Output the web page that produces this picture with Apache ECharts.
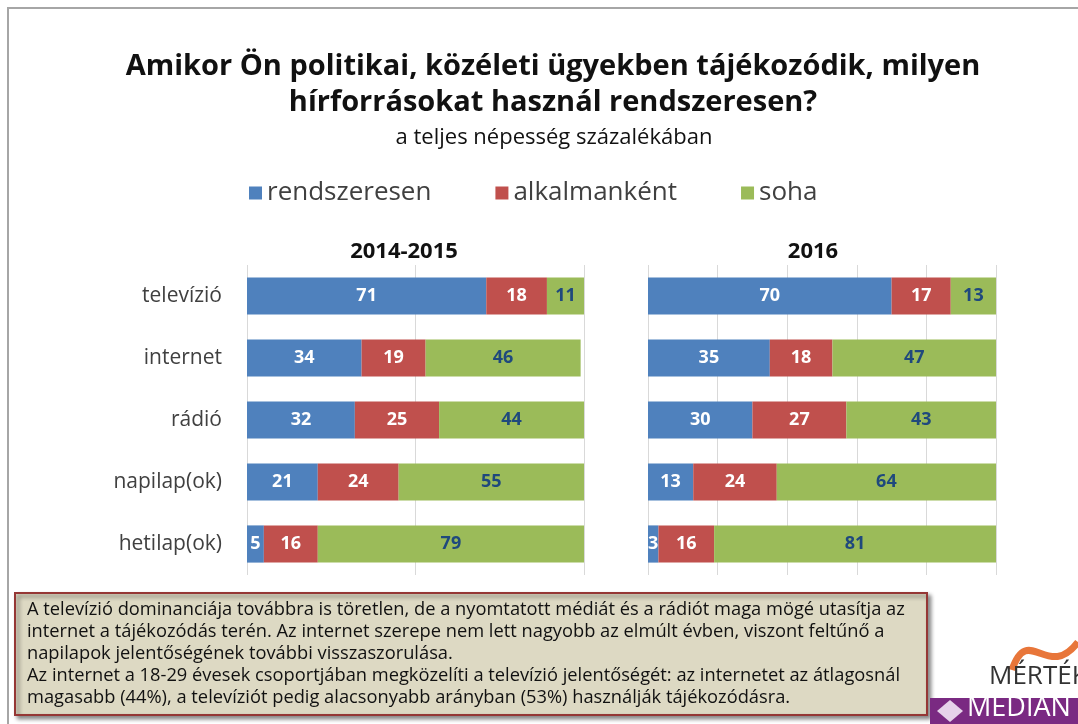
<!DOCTYPE html>
<html>
<head>
    <meta charset="utf-8">
    <style>
        html, body { margin: 0; padding: 0; width: 100%; height: 100%; background: #fff; }
        #chart { width: 1078px; height: 724px; }
    </style>
</head>
<body>
    <div id="chart"></div>
    <script src="https://cdn.jsdelivr.net/npm/echarts@6/dist/echarts.min.js"></script>
    <script>
        // adatok
        var categories = ['televízió', 'internet', 'rádió', 'napilap(ok)', 'hetilap(ok)'];
        var seriesNames = ['rendszeresen', 'alkalmanként', 'soha'];
        var colors = ['#4f81bd', '#c0504d', '#9bbb59'];

        var rendszeresen2015 = [71, 34, 32, 21, 5];
        var alkalmankent2015 = [18, 19, 25, 24, 16];
        var soha2015 = [11, 46, 44, 55, 79];

        var rendszeresen2016 = [70, 35, 30, 13, 3];
        var alkalmankent2016 = [17, 18, 27, 24, 16];
        var soha2016 = [13, 47, 43, 64, 81];

        var panelTitles = ['2014-2015', '2016'];

        var noteLines = [
            'A televízió dominanciája továbbra is töretlen, de a nyomtatott médiát és a rádiót maga mögé utasítja az',
            'internet a tájékozódás terén. Az internet szerepe nem lett nagyobb az elmúlt évben, viszont feltűnő a',
            'napilapok jelentőségének további visszaszorulása.',
            'Az internet a 18-29 évesek csoportjában megközelíti a televízió jelentőségét: az internetet az átlagosnál',
            'magasabb (44%), a televíziót pedig alacsonyabb arányban (53%) használják tájékozódásra.'
        ];

        var font = '"Open Sans", "Noto Sans", sans-serif';
        var chart = echarts.init(document.getElementById('chart'));

        function makeSeries(name, data, idx, color) {
            var isGreen = color === colors[2];
            return {
                name: name,
                type: 'bar',
                stack: 'p' + idx,
                xAxisIndex: idx,
                yAxisIndex: idx,
                data: data,
                barCategoryGap: '40%',
                itemStyle: { color: color },
                label: {
                    show: true,
                    position: 'inside',
                    fontFamily: font,
                    fontWeight: 'bold',
                    fontSize: 18,
                    color: isGreen ? '#1f497d' : '#fff'
                }
            };
        }

        var series = [
            makeSeries(seriesNames[0], rendszeresen2015, 0, colors[0]),
            makeSeries(seriesNames[1], alkalmankent2015, 0, colors[1]),
            makeSeries(seriesNames[2], soha2015, 0, colors[2]),
            makeSeries(seriesNames[0], rendszeresen2016, 1, colors[0]),
            makeSeries(seriesNames[1], alkalmankent2016, 1, colors[1]),
            makeSeries(seriesNames[2], soha2016, 1, colors[2])
        ];

        function xAxis(idx, interval) {
            return {
                type: 'value',
                gridIndex: idx,
                min: 0,
                max: 100,
                interval: interval,
                axisLabel: { show: false },
                axisLine: { show: false },
                axisTick: { show: false },
                splitLine: { show: true, lineStyle: { color: '#d9d9d9', width: 1 } }
            };
        }

        function yAxis(idx, showLabels) {
            return {
                type: 'category',
                gridIndex: idx,
                inverse: true,
                data: categories,
                axisLine: { show: false },
                axisTick: { show: false },
                axisLabel: {
                    show: showLabels,
                    margin: 25,
                    fontFamily: font,
                    fontSize: 21,
                    color: '#404040'
                }
            };
        }

        var option = {
            backgroundColor: '#fff',
            animation: false,
            title: [
                {
                    text: 'Amikor Ön politikai, közéleti ügyekben tájékozódik, milyen\nhírforrásokat használ rendszeresen?',
                    left: 548,
                    textAlign: 'center',
                    top: 44,
                    textStyle: { fontFamily: font, fontWeight: 'bold', fontSize: 29, lineHeight: 36, color: '#111' }
                },
                {
                    text: 'a teljes népesség százalékában',
                    left: 549,
                    textAlign: 'center',
                    top: 122,
                    textStyle: { fontFamily: font, fontWeight: 'normal', fontSize: 22, color: '#111' }
                },
                {
                    text: panelTitles[0],
                    left: 399,
                    textAlign: 'center',
                    top: 236,
                    textStyle: { fontFamily: font, fontWeight: 'bold', fontSize: 22, color: '#111' }
                },
                {
                    text: panelTitles[1],
                    left: 808,
                    textAlign: 'center',
                    top: 236,
                    textStyle: { fontFamily: font, fontWeight: 'bold', fontSize: 22, color: '#111' }
                }
            ],
            legend: {
                data: seriesNames,
                left: 244,
                top: 175,
                icon: 'rect',
                itemWidth: 13,
                itemHeight: 13,
                itemGap: 64,
                textStyle: { fontFamily: font, fontSize: 26, color: '#404040' }
            },
            grid: [
                { left: 247, width: 337, top: 265, height: 310 },
                { left: 648, width: 348, top: 265, height: 310 }
            ],
            xAxis: [xAxis(0, 50), xAxis(1, 20)],
            yAxis: [yAxis(0, true), yAxis(1, false)],
            series: series,
            graphic: [
                // keret
                {
                    type: 'polyline',
                    shape: { points: [[8, 724], [8, 8], [1078, 8]] },
                    style: { stroke: '#a6a6a6', lineWidth: 2, fill: null }
                },
                // szövegdoboz
                {
                    type: 'rect',
                    shape: { x: 15, y: 593, width: 912, height: 122 },
                    style: {
                        fill: '#ddd9c3',
                        stroke: '#953735',
                        lineWidth: 2,
                        shadowColor: 'rgba(0,0,0,0.45)',
                        shadowBlur: 4,
                        shadowOffsetX: 3,
                        shadowOffsetY: 3
                    }
                },
                {
                    type: 'text',
                    left: 27,
                    top: 599,
                    style: {
                        text: noteLines.join('\n'),
                        font: '18.3px ' + font,
                        lineHeight: 22,
                        fill: '#111'
                    }
                },
                // logók
                {
                    type: 'bezierCurve',
                    shape: { x1: 1012, y1: 670, x2: 1078, y2: 642, cpx1: 1028, cpy1: 622, cpx2: 1048, cpy2: 682 },
                    style: { stroke: '#e8763a', lineWidth: 7, fill: null }
                },
                {
                    type: 'text',
                    left: 989,
                    top: 664,
                    style: { text: 'MÉRTÉK', font: '26px ' + font, fill: '#333' }
                },
                {
                    type: 'rect',
                    shape: { x: 930, y: 698, width: 148, height: 26 },
                    style: { fill: '#7a2a82' }
                },
                {
                    type: 'polygon',
                    shape: { points: [[937, 711], [950, 700], [963, 711], [950, 722]] },
                    style: { fill: '#e6d3ea' }
                },
                {
                    type: 'text',
                    left: 967,
                    top: 695,
                    style: { text: 'MEDIÁN', font: '27px ' + font, fill: '#fff' }
                }
            ]
        };

        chart.setOption(option);
    </script>
</body>
</html>
